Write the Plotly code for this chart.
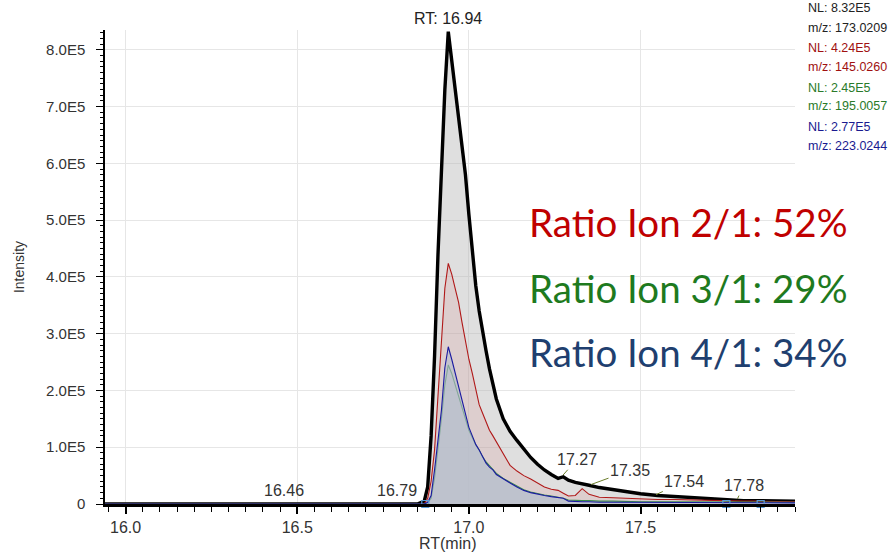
import plotly.graph_objects as go

# ---------------- data ----------------
rt = [15.94, 16.0, 16.2, 16.4, 16.6, 16.8, 16.85, 16.87, 16.88, 16.89, 16.90, 16.91,
      16.92, 16.93, 16.94, 16.95, 16.96, 16.97, 16.98, 16.99, 17.00, 17.01, 17.02,
      17.03, 17.04, 17.05, 17.06, 17.07, 17.08, 17.10, 17.12, 17.14, 17.16, 17.18,
      17.20, 17.22, 17.24, 17.26, 17.275, 17.29, 17.31, 17.33, 17.35, 17.38, 17.42,
      17.46, 17.50, 17.55, 17.60, 17.65, 17.70, 17.75, 17.80, 17.85, 17.90, 17.95]

# intensities in units of 1E5
ion1_173 = [0, 0, 0, 0, 0, 0, 0, 0.05, 0.3, 1.2, 2.6, 4.4,
            6.0, 7.3, 8.32, 7.8, 7.3, 6.8, 6.3, 5.8, 5.1, 4.4, 3.85,
            3.4, 3.0, 2.7, 2.38, 2.08, 1.85, 1.5, 1.28, 1.12, 0.97, 0.82,
            0.7, 0.6, 0.52, 0.45, 0.48, 0.42, 0.38, 0.36, 0.33, 0.29, 0.25,
            0.21, 0.18, 0.15, 0.13, 0.11, 0.09, 0.08, 0.06, 0.06, 0.05, 0.05]
ion2_145 = [0, 0, 0, 0, 0, 0, 0, 0, 0.1, 0.4, 0.95, 1.9,
            3.0, 3.8, 4.24, 4.05, 3.8, 3.55, 3.2, 2.85, 2.55, 2.3, 2.0,
            1.75, 1.6, 1.45, 1.3, 1.2, 1.1, 0.9, 0.68, 0.58, 0.5, 0.44,
            0.37, 0.3, 0.26, 0.24, 0.19, 0.14, 0.15, 0.27, 0.17, 0.12, 0.11,
            0.1, 0.09, 0.08, 0.08, 0.07, 0.07, 0.06, 0.05, 0.05, 0.04, 0.04]
ion3_195 = [0, 0, 0, 0, 0, 0, 0, 0, 0.02, 0.1, 0.45, 0.95,
            1.5, 2.1, 2.45, 2.3, 2.1, 1.9, 1.68, 1.48, 1.3, 1.17, 1.04,
            0.95, 0.83, 0.74, 0.67, 0.6, 0.54, 0.45, 0.38, 0.31, 0.25, 0.21,
            0.18, 0.16, 0.14, 0.12, 0.1, 0.07, 0.06, 0.06, 0.06, 0.05, 0.05,
            0.04, 0.04, 0.04, 0.04, 0.03, 0.03, 0.03, 0.03, 0.03, 0.03, 0.03]
ion4_223 = [0, 0, 0, 0, 0, 0, 0, 0, 0.03, 0.15, 0.6, 1.15,
            1.65, 2.4, 2.77, 2.55, 2.3, 2.05, 1.8, 1.55, 1.35, 1.2, 1.05,
            0.95, 0.82, 0.72, 0.65, 0.6, 0.52, 0.44, 0.37, 0.3, 0.24, 0.2,
            0.17, 0.15, 0.13, 0.11, 0.1, 0.05, 0.04, 0.04, 0.04, 0.03, 0.03,
            0.03, 0.03, 0.03, 0.03, 0.03, 0.02, 0.02, 0.02, 0.02, 0.02, 0.02]

nl_labels = ["NL: 8.32E5", "NL: 4.24E5", "NL: 2.45E5", "NL: 2.77E5"]
mz_labels = ["m/z: 173.0209", "m/z: 145.0260", "m/z: 195.0057", "m/z: 223.0244"]
ratio_labels = ["Ratio Ion 2/1: 52%", "Ratio Ion 3/1: 29%", "Ratio Ion 4/1: 34%"]

peak_rt_base = [16.46, 16.79]
peak_rt_tail = [17.27, 17.35, 17.54, 17.78]
boundary_rt = [16.873, 17.75, 17.85]
boundary_int = [0, 0, 0]

y_tick_vals = [0, 1, 2, 3, 4, 5, 6, 7, 8]
y_tick_text = ["0", "1.0E5", "2.0E5", "3.0E5", "4.0E5", "5.0E5", "6.0E5", "7.0E5", "8.0E5"]

# ---------------- figure ----------------
E5 = 1e5
def scale(v):
    return [a * E5 for a in v]

fig = go.Figure()
series = [
    (ion1_173, "#000000", 3.4, "rgba(185,185,185,0.45)"),
    (ion2_145, "#b01818", 1.1, "rgba(210,120,120,0.16)"),
    (ion3_195, "#3a8a4a", 1.1, "rgba(190,200,205,0.50)"),
    (ion4_223, "#1a1aa0", 1.1, "rgba(180,188,205,0.60)"),
]
for vals, col, w, fc in series:
    fig.add_trace(go.Scatter(x=rt, y=scale(vals), mode="lines",
                             line=dict(color=col, width=w, shape="linear"),
                             fill="tozeroy", fillcolor=fc, showlegend=False,
                             hoverinfo="skip"))

fig.add_trace(go.Scatter(x=boundary_rt, y=boundary_int, mode="markers",
                         marker=dict(symbol="square-open", size=7, color="#5b9bd5",
                                     line=dict(width=1.2)),
                         showlegend=False, hoverinfo="skip", cliponaxis=False))

font_ax = "Liberation Sans, Arial, sans-serif"

fig.update_layout(
    width=895, height=555,
    margin=dict(l=105, r=100, t=30, b=51),
    paper_bgcolor="white", plot_bgcolor="white",
    font=dict(family=font_ax, size=14, color="#333333"),
    xaxis=dict(range=[15.94, 17.95], dtick=0.5, tick0=16.0, tickformat=".1f",
               ticks="outside", ticklen=7, tickwidth=1.5, tickcolor="#000",
               showline=True, linecolor="#000", linewidth=2.5, automargin=False,
               showgrid=True, gridcolor="#e6e6e6", gridwidth=1, zeroline=False,
               minor=dict(dtick=0.05, ticks="outside", ticklen=5, tickcolor="#000",
                          tickwidth=1.2, showgrid=False),
               tickfont=dict(size=16, color="#333")),
    yaxis=dict(range=[0, 8.35 * E5], tickvals=[v * E5 for v in y_tick_vals],
               ticktext=y_tick_text, ticks="outside", ticklen=7, tickcolor="#000",
               showline=True, linecolor="#000", linewidth=1.5, automargin=False,
               ticklabelstandoff=8,
               showgrid=True, gridcolor="#e6e6e6", gridwidth=1, zeroline=False,
               minor=dict(dtick=0.1 * E5, ticks="outside", ticklen=3, tickcolor="#000",
                          showgrid=False),
               title=dict(text="Intensity", font=dict(size=14, color="#333"), standoff=18),
               tickfont=dict(size=15, color="#333")),
)

anns = []
# x axis title
anns.append(dict(x=0.497, y=-0.084, xref="paper", yref="paper", yanchor="middle",
                 text="RT(min)", showarrow=False, font=dict(size=16, color="#333")))

# apex label
apex_i = ion1_173.index(max(ion1_173))
anns.append(dict(x=rt[apex_i], y=1, xref="x", yref="paper", yanchor="bottom",
                 text="RT: " + f"{rt[apex_i]:.2f}", showarrow=False,
                 font=dict(size=16, color="#222"), yshift=1))

# NL / m/z header text
hdr_colors = ["#222222", "#a01010", "#2a7a2a", "#1a1a90"]
hdr_y = [[1.046, 1.004], [0.962, 0.922], [0.878, 0.840], [0.795, 0.755]]
for i in range(4):
    anns.append(dict(x=1.0155, y=hdr_y[i][0], xref="paper", yref="paper",
                     xanchor="left", yanchor="middle", text=nl_labels[i],
                     showarrow=False, font=dict(size=12.5, color=hdr_colors[i])))
    anns.append(dict(x=1.0155, y=hdr_y[i][1], xref="paper", yref="paper",
                     xanchor="left", yanchor="middle", text=mz_labels[i],
                     showarrow=False, font=dict(size=12.5, color=hdr_colors[i])))

# ratio text
ratio_colors = ["#c00000", "#1e7a1e", "#1f3f6f"]
ratio_y = [0.595, 0.456, 0.321]
for i in range(3):
    anns.append(dict(x=0.612, y=ratio_y[i], xref="paper", yref="paper",
                     xanchor="left", yanchor="middle", text=ratio_labels[i],
                     showarrow=False,
                     font=dict(size=38.5, color=ratio_colors[i],
                               family="Lato, Open Sans, sans-serif")))

# baseline peak labels
for p in peak_rt_base:
    anns.append(dict(x=p, y=0, xref="x", yref="y", yanchor="bottom",
                     text=f"{p:.2f}", showarrow=False, yshift=3,
                     font=dict(size=16, color="#333")))

# tail peak labels with leader lines
offsets = [(15, -17), (41, -15), (30, -14), (7, -15)]
for p, (ax_, ay_) in zip(peak_rt_tail, offsets):
    idx = min(range(len(rt)), key=lambda k: abs(rt[k] - p))
    anns.append(dict(x=p, y=ion1_173[idx] * E5, xref="x", yref="y",
                     text=f"{p:.2f}", showarrow=True, arrowhead=0, arrowwidth=1,
                     arrowcolor="#6b7d2a", ax=ax_, ay=ay_, standoff=2,
                     font=dict(size=16, color="#333")))

fig.update_layout(annotations=anns)
fig.write_html("out.html")
